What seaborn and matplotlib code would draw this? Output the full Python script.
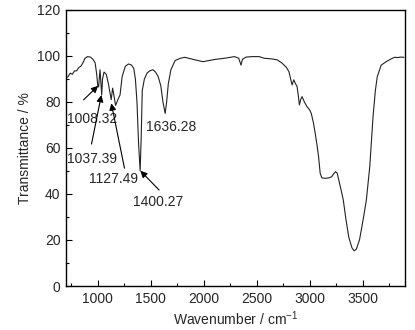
import matplotlib
matplotlib.use("Agg")
import matplotlib.pyplot as plt
import seaborn as sns
import pandas as pd
from matplotlib.ticker import MultipleLocator

wavenumber = [700, 720, 740, 760, 780, 800, 822, 840, 860, 880, 903, 930, 955, 975, 990,
              1000, 1008, 1021, 1030, 1037, 1045, 1059, 1080, 1100, 1115, 1127, 1140, 1152,
              1168, 1190, 1210, 1230, 1260, 1290, 1320, 1340, 1355, 1370, 1385, 1400, 1410,
              1420, 1440, 1465, 1490, 1520, 1545, 1570, 1595, 1615, 1636, 1650, 1666, 1690,
              1730, 1780, 1822, 1900, 1993, 2050, 2110, 2200, 2290, 2330, 2352, 2365, 2400,
              2460, 2523, 2570, 2640, 2694, 2741, 2780, 2804, 2820, 2834, 2850, 2865, 2881,
              2892, 2903, 2915, 2928, 2950, 2974, 3000, 3015, 3035, 3052, 3070, 3084, 3099,
              3115, 3146, 3180, 3208, 3230, 3245, 3260, 3275, 3300, 3317, 3343, 3370, 3400,
              3420, 3440, 3470, 3504, 3535, 3567, 3598, 3620, 3638, 3675, 3722, 3760, 3800,
              3830, 3862, 3890]
transmittance = [90.5, 91, 92.5, 92, 93.5, 93.5, 95, 95.5, 97, 99, 99.7, 99.5, 98.5, 97, 92,
                 87, 86.5, 94, 88, 83, 90, 93, 92, 88, 84, 81, 86, 83,
                 78.5, 81, 83, 91, 95.5, 96.5, 96, 94.5, 90, 80, 62, 50, 65,
                 85, 90, 92.5, 93.5, 94, 93, 91, 87, 80, 75, 80, 88, 94,
                 98, 99, 99.4, 98.5, 97.5, 98, 98.5, 99, 99.7, 99, 96, 98.5, 99.5,
                 99.7, 99.7, 99, 98.7, 98.3, 96.8, 95, 93.2, 90, 87.4, 89.6, 88, 86.7,
                 83, 78.7, 81, 82.3, 80, 78, 76.5, 75, 71, 66.4, 61, 56.2, 49,
                 47, 46.8, 47, 47.5, 49, 49.7, 49, 46, 41, 37.4, 28.7, 21, 16.5,
                 15.3, 16, 20, 28.7, 37.4, 51.9, 73.6, 85, 91, 96, 97.5, 98.5, 99.4,
                 99.3, 99.5, 99.4]

peak_labels = ["1008.32", "1037.39", "1127.49", "1400.27"]
arrow_heads = [(1003, 87), (1034, 83), (1128, 79.4), (1402, 50.1)]
arrow_tails = [(866, 80.9), (941, 61.7), (1252, 51.2), (1579, 41.7)]
label_pos = [(944, 72.6), (948, 55.2), (1145, 46.7), (1574, 36.3)]
extra_label = "1636.28"
extra_pos = (1696, 69.3)

sns.set_style("ticks")
plt.rcParams["font.family"] = ["Liberation Sans", "DejaVu Sans"]
plt.rcParams["mathtext.fontset"] = "custom"
plt.rcParams["mathtext.rm"] = "Liberation Sans"
plt.rcParams["mathtext.it"] = "Liberation Sans"
plt.rcParams["mathtext.default"] = "regular"

df = pd.DataFrame({"wn": wavenumber, "T": transmittance})

fig = plt.figure(figsize=(4.15, 3.3), dpi=100)
ax = fig.add_axes([0.159, 0.1333, 0.817, 0.8367])
sns.lineplot(data=df, x="wn", y="T", ax=ax, color="#222222", linewidth=0.8)

ax.set_xlim(700, 3900)
ax.set_ylim(0, 120)
ax.xaxis.set_major_locator(MultipleLocator(500))
ax.xaxis.set_minor_locator(MultipleLocator(250))
ax.yaxis.set_major_locator(MultipleLocator(20))
ax.yaxis.set_minor_locator(MultipleLocator(10))
ax.tick_params(which="both", direction="in", labelsize=10, width=0.8, color="black")
ax.tick_params(which="major", length=4.5, pad=4)
ax.tick_params(which="minor", length=2.5)
for s in ax.spines.values():
    s.set_linewidth(1.0)
    s.set_color("black")

ax.set_xlabel("Wavenumber / cm$^{-1}$", fontsize=10, labelpad=3)
ax.set_ylabel("Transmittance / %", fontsize=10, labelpad=4)

for lab, head, tail, pos in zip(peak_labels, arrow_heads, arrow_tails, label_pos):
    ax.annotate("", xy=head, xytext=tail,
                arrowprops=dict(arrowstyle="-|>,head_length=0.4,head_width=0.2",
                                color="black", lw=0.8, shrinkA=0, shrinkB=0))
    ax.text(pos[0], pos[1], lab, ha="center", va="center", fontsize=10)
ax.text(extra_pos[0], extra_pos[1], extra_label, ha="center", va="center", fontsize=10)

fig.savefig("out.png", dpi=100)
